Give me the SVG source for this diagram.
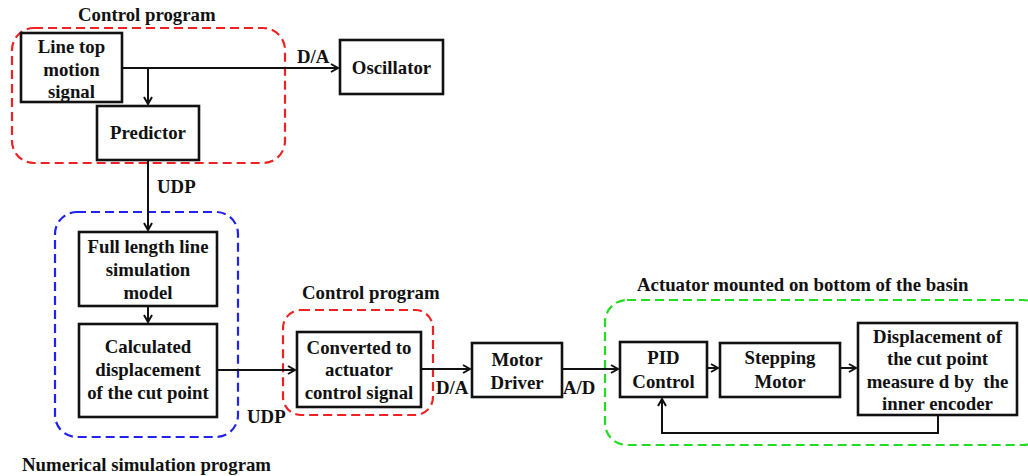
<svg xmlns="http://www.w3.org/2000/svg" width="1028" height="476" viewBox="0 0 1028 476">
<defs>
<marker id="arr" markerWidth="10" markerHeight="10" refX="8" refY="5" orient="auto" markerUnits="userSpaceOnUse">
<path d="M1,1 L8,5 L1,9" fill="none" stroke="#111" stroke-width="2"/>
</marker>
<style>
.box{fill:#fff;stroke:#111;stroke-width:2.6}
.grp{fill:none;stroke-width:2.2;stroke-dasharray:9,5}
.t{font-family:"Liberation Serif","Times New Roman",serif;font-weight:bold;font-size:18.8px;fill:#111;text-anchor:middle}
.l{font-family:"Liberation Serif","Times New Roman",serif;font-weight:bold;font-size:18.8px;fill:#111}
.c{fill:none;stroke:#111;stroke-width:2}
</style>
</defs>
<rect width="1028" height="476" fill="#fff"/>
<g id="groups">
<rect class="grp" x="12" y="28" width="273" height="135" rx="22" stroke="#ee2222"/>
<rect class="grp" x="55" y="212" width="183" height="225" rx="22" stroke="#2222ee"/>
<rect class="grp" x="283" y="310" width="150" height="105" rx="18" stroke="#ee2222"/>
<rect class="grp" x="605" y="300" width="440" height="145" rx="22" stroke="#22dd22"/>
<text class="l" x="78" y="21">Control program</text>
<text class="l" x="22" y="471">Numerical simulation program</text>
<text class="l" x="302" y="299">Control program</text>
<text class="l" x="637" y="291">Actuator mounted on bottom of the basin</text>
</g>
<g id="connectors">
<path class="c" d="M122,68 H338" marker-end="url(#arr)"/>
<path class="c" d="M148,68 V104" marker-end="url(#arr)"/>
<path class="c" d="M148,160 V230" marker-end="url(#arr)"/>
<path class="c" d="M148,306 V322" marker-end="url(#arr)"/>
<path class="c" d="M217,370 H295" marker-end="url(#arr)"/>
<path class="c" d="M421,369 H470" marker-end="url(#arr)"/>
<path class="c" d="M562,369 H618" marker-end="url(#arr)"/>
<path class="c" d="M707,368 H718" marker-end="url(#arr)"/>
<path class="c" d="M840,368 H856" marker-end="url(#arr)"/>
<path class="c" d="M938,415 V433 H662 V399" marker-end="url(#arr)"/>
<text class="l" x="297" y="63">D/A</text>
<text class="l" x="157" y="193">UDP</text>
<text class="l" x="247" y="423">UDP</text>
<text class="l" x="436" y="394">D/A</text>
<text class="l" x="563" y="394">A/D</text>
</g>
<g id="n-linetop">
<rect class="box" x="21" y="33" width="101" height="69"/>
<text class="t" x="71.5" y="53">Line top</text>
<text class="t" x="71.5" y="76">motion</text>
<text class="t" x="71.5" y="98">signal</text>
</g>
<g id="n-predictor">
<rect class="box" x="97" y="106" width="102" height="54"/>
<text class="t" x="148" y="139">Predictor</text>
</g>
<g id="n-oscillator">
<rect class="box" x="340" y="40" width="103" height="54"/>
<text class="t" x="391.5" y="74">Oscillator</text>
</g>
<g id="n-fulllength">
<rect class="box" x="79" y="232" width="138" height="74"/>
<text class="t" x="148" y="253">Full length line</text>
<text class="t" x="148" y="276">simulation</text>
<text class="t" x="148" y="299">model</text>
</g>
<g id="n-calculated">
<rect class="box" x="79" y="324" width="138" height="93"/>
<text class="t" x="148" y="353">Calculated</text>
<text class="t" x="148" y="376">displacement</text>
<text class="t" x="148" y="399">of the cut point</text>
</g>
<g id="n-converted">
<rect class="box" x="297" y="332" width="124" height="75"/>
<text class="t" x="359" y="354">Converted to</text>
<text class="t" x="359" y="376">actuator</text>
<text class="t" x="359" y="399">control signal</text>
</g>
<g id="n-motordriver">
<rect class="box" x="472" y="343" width="90" height="54"/>
<text class="t" x="517" y="366">Motor</text>
<text class="t" x="517" y="389">Driver</text>
</g>
<g id="n-pid">
<rect class="box" x="620" y="342" width="87" height="55"/>
<text class="t" x="663.5" y="364">PID</text>
<text class="t" x="663.5" y="388">Control</text>
</g>
<g id="n-stepping">
<rect class="box" x="720" y="343" width="120" height="54"/>
<text class="t" x="780" y="364">Stepping</text>
<text class="t" x="780" y="388">Motor</text>
</g>
<g id="n-displacement">
<rect class="box" x="858" y="323" width="159" height="92"/>
<text class="t" x="937.5" y="343">Displacement of</text>
<text class="t" x="937.5" y="365">the cut point</text>
<text class="t" x="937.5" y="388">measure d by&#160; the</text>
<text class="t" x="937.5" y="410">inner encoder</text>
</g>
</svg>
